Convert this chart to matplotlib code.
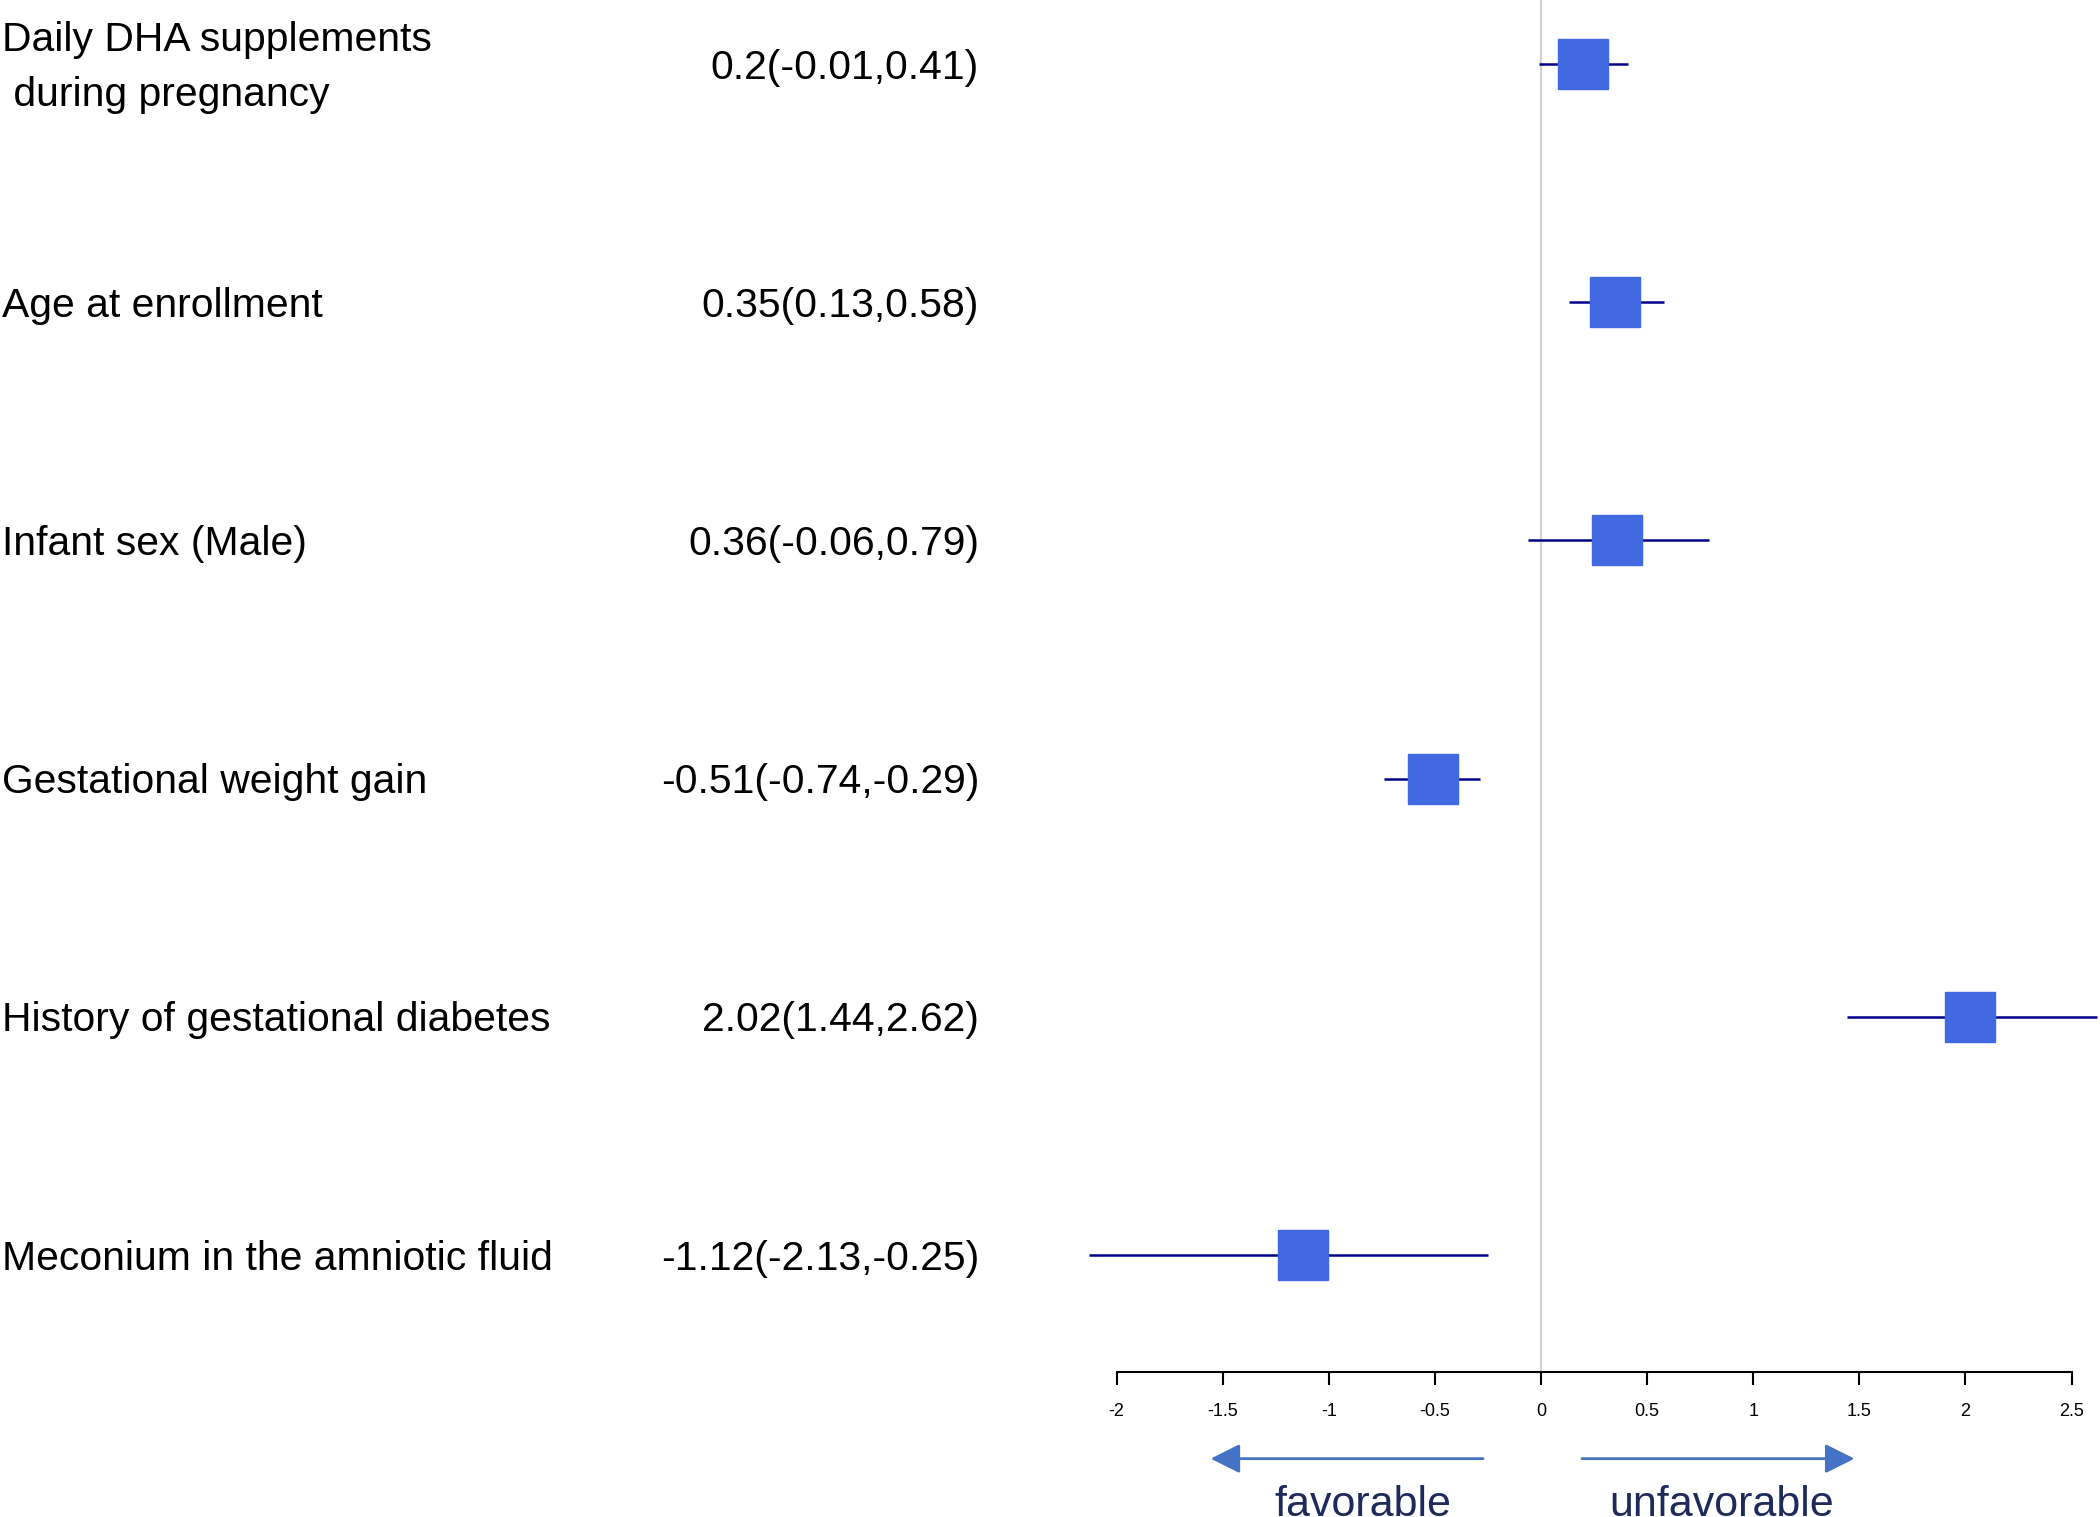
#forest plot of regression estimates with 95% CI
import matplotlib.pyplot as plt
import numpy as np

# data
labels = ['Daily DHA supplements\n during pregnancy', 'Age at enrollment', 'Infant sex (Male)',
          'Gestational weight gain', 'History of gestational diabetes', 'Meconium in the amniotic fluid']
est = [0.2, 0.35, 0.36, -0.51, 2.02, -1.12]
lo = [-0.01, 0.13, -0.06, -0.74, 1.44, -2.13]
hi = [0.41, 0.58, 0.79, -0.29, 2.62, -0.25]
ci_text = ['0.2(-0.01,0.41)', '0.35(0.13,0.58)', '0.36(-0.06,0.79)',
           '-0.51(-0.74,-0.29)', '2.02(1.44,2.62)', '-1.12(-2.13,-0.25)']
ticks = [-2, -1.5, -1, -0.5, 0, 0.5, 1, 1.5, 2, 2.5]
tick_labels = ['-2', '-1.5', '-1', '-0.5', '0', '0.5', '1', '1.5', '2', '2.5']

plt.rcParams['font.family'] = ['Liberation Sans', 'DejaVu Sans']

fig = plt.figure(figsize=(21, 15.17), dpi=100)
ax = fig.add_axes([0, 0, 1, 1])
ax.set_xlim(-7.262, 2.634)
ax.set_ylim(6.10, -0.269)

rows = np.arange(len(labels))
axis_y = 5.49

# grey reference line at 0
ax.plot([0, 0], [-0.269, axis_y], color='#d3d3d3', lw=1.6, zorder=1)

# CI lines and squares
ax.hlines(rows, lo, hi, color='#00008B', lw=1.8, zorder=2)
ax.plot(est, rows, 's', color='#4169E1', ms=36, mec='#4169E1', zorder=3)

# text columns
for i in rows:
    ax.text(-7.253, i + 0.015, labels[i], ha='left', va='center', fontsize=29.4, linespacing=1.55)
    ax.text(-2.648, i + 0.015, ci_text[i], ha='right', va='center', fontsize=29.4)

# bottom axis
for s in ['top', 'right', 'left']:
    ax.spines[s].set_visible(False)
ax.spines['bottom'].set_position(('data', axis_y))
ax.spines['bottom'].set_bounds(-2, 2.5)
ax.spines['bottom'].set_linewidth(1.5)
ax.set_xticks(ticks)
ax.set_xticklabels(tick_labels)
ax.tick_params(axis='x', direction='out', length=9.5, width=1.5, pad=13, labelsize=13)
ax.set_yticks([])

# favorable / unfavorable arrows
arrow_y = 5.855
arr = dict(arrowstyle='-|>,head_length=0.9,head_width=0.45', color='#4472C4', lw=2, mutation_scale=20)
ax.annotate('', xy=(-1.57, arrow_y), xytext=(-0.26, arrow_y), arrowprops=arr)
ax.annotate('', xy=(1.49, arrow_y), xytext=(0.18, arrow_y), arrowprops=arr)
ax.text(-0.84, 5.965, 'favorable', ha='center', va='top', fontsize=31, color='#1F2A5C')
ax.text(0.85, 5.965, 'unfavorable', ha='center', va='top', fontsize=31, color='#1F2A5C')

plt.savefig('out.png', dpi=100)
